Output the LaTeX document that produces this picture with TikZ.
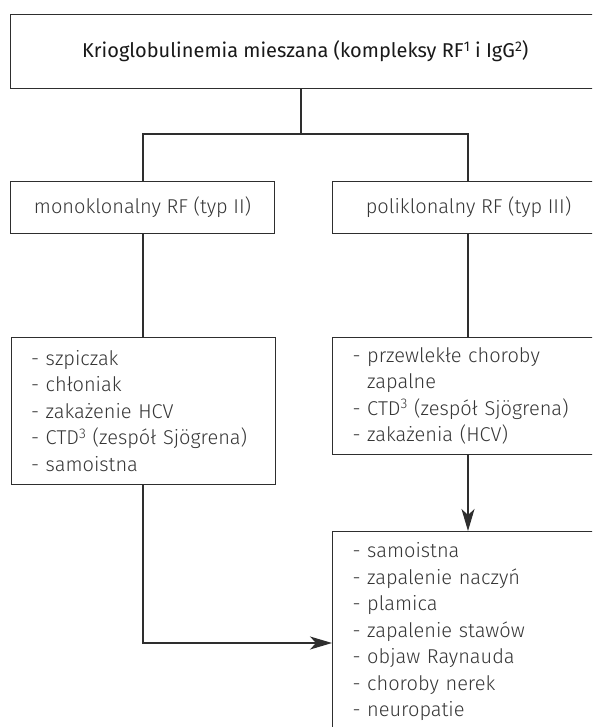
\documentclass[tikz,border=0pt]{standalone}
\usepackage{fontspec}
\setmainfont{Fira Sans Light}
\newfontfamily\titlefont{Fira Sans}
\usetikzlibrary{arrows.meta}
\definecolor{ln}{HTML}{2E2E2E}
\definecolor{tx}{HTML}{363636}
\newcommand\supnum[1]{\raisebox{0.62ex}{\fontsize{14}{14}\selectfont #1}}
\tikzset{
  box/.style={draw=ln, line width=1.1pt, inner sep=0pt, text=tx,
    font=\fontsize{20}{26.5}\selectfont},
  listbox/.style={box, anchor=north west, align=left, inner xsep=19.5pt},
  conn/.style={draw=ln, line width=1.1pt},
  arr/.style={conn, -{Stealth[length=22pt,width=13pt,inset=6pt]}},
}
\begin{document}
\begin{tikzpicture}[x=1pt,y=1pt]
\useasboundingbox (0,0) rectangle (592,-727);
\clip (0,0) rectangle (592,-727);
\fill[white] (0,0) rectangle (592,-727);

\node[box, anchor=north west, minimum width=590.5pt, minimum height=74pt,
  font=\titlefont\fontsize{20}{24}\selectfont, text=black!90]
  (top) at (9.5,-14) {Krioglobulinemia mieszana (kompleksy RF\supnum{1} i IgG\supnum{2})};

\node[box, anchor=north west, minimum width=264pt, minimum height=52pt]
  (mono) at (10,-181) {monoklonalny RF (typ II)};
\node[box, anchor=north west, minimum width=272pt, minimum height=52pt]
  (poly) at (332,-181) {poliklonalny RF (typ III)};

\node[listbox, minimum width=264pt, minimum height=147pt, text width=225pt]
  (listL) at (11,-337) {- szpiczak\\- chłoniak\\- zakażenie HCV\\- CTD\supnum{3} (zespół Sjögrena)\\- samoistna};
\node[listbox, minimum width=272pt, minimum height=117pt, text width=233pt, inner xsep=20pt]
  (listR) at (332,-337) {- przewlekłe choroby\\\phantom{- }zapalne\\- CTD\supnum{3} (zespół Sjögrena)\\- zakażenia (HCV)};

\node[listbox, minimum width=280pt, minimum height=200pt, text width=240pt, inner xsep=20pt]
  (res) at (332,-531) {- samoistna\\- zapalenie naczyń\\- plamica\\- zapalenie stawów\\- objaw Raynauda\\- choroby nerek\\- neuropatie};

\coordinate (j) at (301,-134);
\coordinate (jl) at (143,-134);
\coordinate (jr) at (468,-134);
\coordinate (ent) at (332,-643);

\draw[conn] (j |- top.south) -- (j);
\draw[conn] (mono.north -| jl) -- (jl) -- (jr) -- (poly.north -| jr);
\draw[conn] (mono.south -| jl) -- (listL.north -| jl);
\draw[conn] (poly.south -| jr) -- (listR.north -| jr);
\draw[arr] (listR.south -| jr) -- (res.north -| jr);
\draw[arr] (listL.south -| jl) |- (ent);
\end{tikzpicture}
\end{document}
